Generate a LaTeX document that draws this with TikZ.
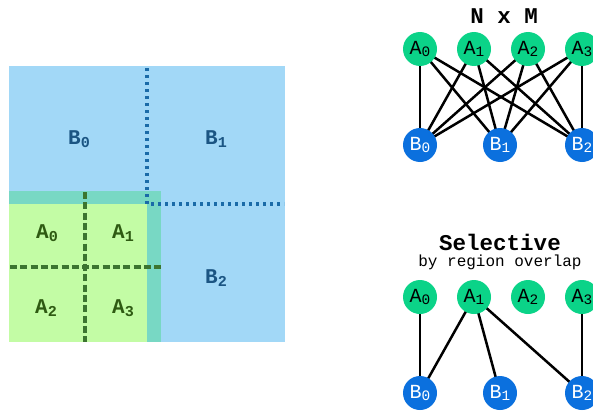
\documentclass[tikz,border=0pt]{standalone}
\usepackage{fontspec}
\setmonofont{Liberation Mono}
\setmainfont{Liberation Mono}
\usetikzlibrary{backgrounds}
\definecolor{bfill}{HTML}{A2D8F7}
\definecolor{gfill}{HTML}{C3FCA5}
\definecolor{ofill}{HTML}{78D8C4}
\definecolor{btext}{HTML}{1B5583}
\definecolor{gtext}{HTML}{2E5A12}
\definecolor{bdot}{HTML}{1A6BA8}
\definecolor{gdash}{HTML}{3C7530}
\definecolor{nodeA}{HTML}{0BD388}
\definecolor{nodeB}{HTML}{0B70DE}
\newcommand\lsub[1]{\raisebox{-0.25ex}{\scalebox{0.72}{#1}}}
\tikzset{
  lbl/.style={font=\bfseries\fontsize{21}{21}\selectfont},
  an/.style={circle,fill=nodeA,minimum size=34pt,inner sep=0pt,font=\fontsize{20}{20}\selectfont,text=black},
  bn/.style={circle,fill=nodeB,minimum size=34pt,inner sep=0pt,font=\fontsize{20}{20}\selectfont,text=white},
  edge/.style={line width=2.5pt,black},
  ttl/.style={inner sep=0pt,font=\bfseries\fontsize{22.5}{22.5}\selectfont},
}
\begin{document}
\begin{tikzpicture}[x=1pt,y=-1pt]
\clip (0,0) rectangle (593,412);
% left square
\fill[bfill] (9,66) rectangle (285,342);
\fill[gfill] (9,191) rectangle (161,342);
\fill[ofill] (9,191) rectangle (147,204);
\fill[ofill] (147,191) rectangle (161,342);
\coordinate (vt) at (147,68);
\coordinate (c) at (147,204);
\coordinate (hr) at (284,204);
\draw[bdot,line width=3.2pt,dash pattern=on 3pt off 4pt] (vt) -- (c) -- (hr);
\coordinate (gv1) at (85,192);
\coordinate (gv2) at (85,342);
\coordinate (gh1) at (10,267);
\coordinate (gh2) at (161,267);
\draw[gdash,line width=3.2pt,dash pattern=on 7pt off 3.3pt] (gv1) -- (gv2);
\draw[gdash,line width=3.2pt,dash pattern=on 7pt off 3.3pt] (gh1) -- (gh2);
\node[lbl,text=btext] (lb0) at (79,139) {B\lsub{0}};
\node[lbl,text=btext] (lb1) at (216,139) {B\lsub{1}};
\node[lbl,text=btext] (lb2) at (216,278) {B\lsub{2}};
\node[lbl,text=gtext] (la0) at (47,233) {A\lsub{0}};
\node[lbl,text=gtext] (la1) at (123,233) {A\lsub{1}};
\node[lbl,text=gtext] (la2) at (46,308) {A\lsub{2}};
\node[lbl,text=gtext] (la3) at (123,308) {A\lsub{3}};
% top graph
\node[ttl] (t1) at (504,16) {N x M};
\node[an] (a0) at (420,49) {A\lsub{0}};
\node[an] (a1) at (474,49) {A\lsub{1}};
\node[an] (a2) at (528,49) {A\lsub{2}};
\node[an] (a3) at (582,49) {A\lsub{3}};
\node[bn] (b0) at (420,145) {B\lsub{0}};
\node[bn] (b1) at (500,145) {B\lsub{1}};
\node[bn] (b2) at (582,145) {B\lsub{2}};
% bottom graph
\node[ttl] (t2) at (500,242) {Selective};
\node[inner sep=0pt,font=\fontsize{16}{16}\selectfont] (t3) at (500,262) {by region overlap};
\node[an] (c0) at (420,297) {A\lsub{0}};
\node[an] (c1) at (474,297) {A\lsub{1}};
\node[an] (c2) at (528,297) {A\lsub{2}};
\node[an] (c3) at (582,297) {A\lsub{3}};
\node[bn] (d0) at (420,393) {B\lsub{0}};
\node[bn] (d1) at (500,393) {B\lsub{1}};
\node[bn] (d2) at (582,393) {B\lsub{2}};
\begin{scope}[on background layer]
\foreach \a in {a0,a1,a2,a3}{\foreach \b in {b0,b1,b2}{\draw[edge] (\a.center) -- (\b.center);}}
\draw[edge] (c0.center) -- (d0.center);
\draw[edge] (c1.center) -- (d0.center);
\draw[edge] (c1.center) -- (d1.center);
\draw[edge] (c1.center) -- (d2.center);
\draw[edge] (c3.center) -- (d2.center);
\end{scope}
\end{tikzpicture}
\end{document}
